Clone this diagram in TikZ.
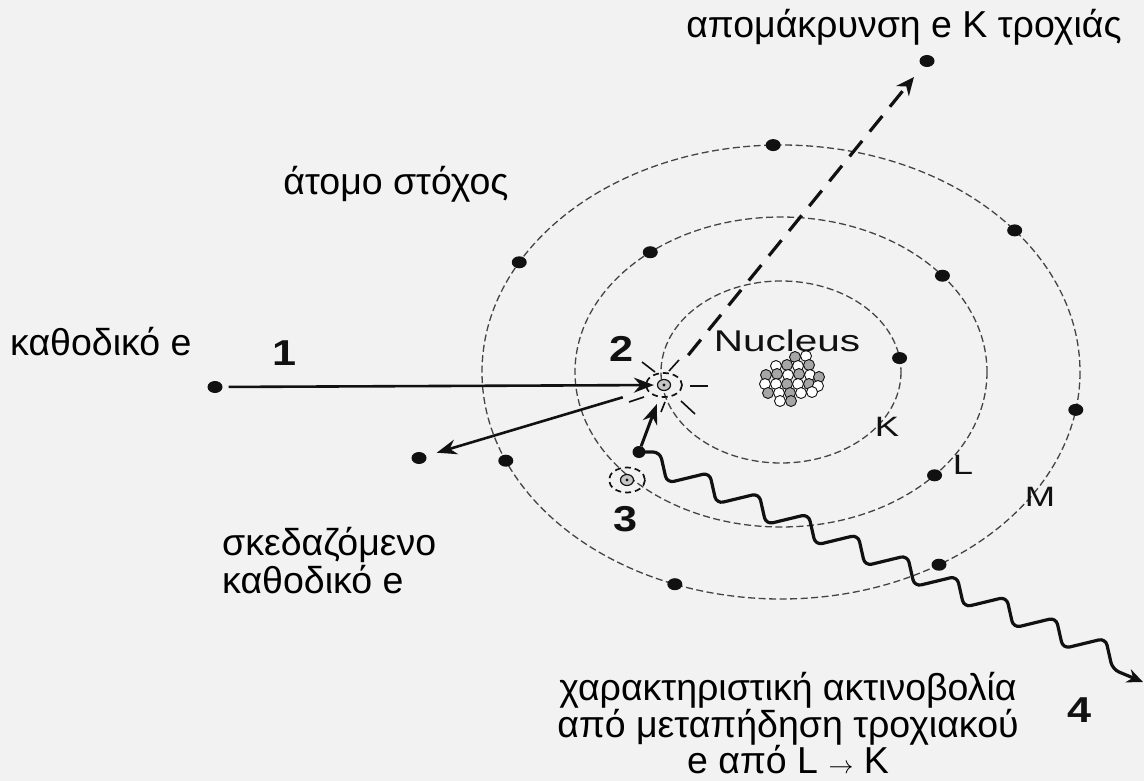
\documentclass[tikz,border=0pt]{standalone}
\usepackage{fontspec}
\setmainfont{Liberation Sans}
\usetikzlibrary{arrows.meta,calc,shapes.geometric}
\definecolor{paper}{HTML}{F2F2F2}
\definecolor{ink}{HTML}{111111}
\definecolor{shellgray}{HTML}{444444}

\begin{document}
\begin{tikzpicture}[x=1pt,y=-1pt,
  orbit/.style={draw=shellgray, line width=1.3pt, dash pattern=on 7pt off 3.5pt},
  electron/.style={ellipse, fill=ink, inner sep=0pt, minimum width=15pt, minimum height=12pt},
  caption/.style={font=\fontsize{37.5}{42}\selectfont, inner sep=0pt, text=black},
  stage/.style={font=\fontsize{36}{40}\selectfont\bfseries, inner sep=0pt, text=ink},
  shellname/.style={font=\fontsize{28}{30}\selectfont, inner sep=0pt, text=ink},
  beam/.style={draw=ink, line width=2.6pt, -{Stealth[length=20pt,width=15pt]}},
  ejected/.style={draw=ink, line width=3.2pt, dash pattern=on 20pt off 12pt,
    -{Stealth[length=18pt,width=16pt]}},
  photon/.style={draw=ink, line width=3.2pt, rounded corners=7pt,
    -{Stealth[length=16pt,width=14pt]}},
  vacancy/.style={ellipse, draw=ink, line width=1.2pt, fill=gray!45,
    inner sep=0pt, minimum width=13pt, minimum height=11pt},
  halo/.style={draw=ink, line width=1.7pt, dash pattern=on 6pt off 4pt},
  burst/.style={draw=ink, line width=1.6pt},
  nucleon/.style={circle, draw=ink, line width=0.9pt, inner sep=0pt, minimum size=11pt}
]
% background and page size
\fill[paper] (0,0) rectangle (1144,781);
\useasboundingbox (0,0) rectangle (1144,781);

% shells K, L, M around the nucleus
\coordinate (nuc) at (781,372);
\draw[orbit] (nuc) ellipse [x radius=120, y radius=91];
\draw[orbit] (nuc) ellipse [x radius=206, y radius=155];
\draw[orbit] (nuc) ellipse [x radius=299, y radius=227];

% bound electrons
\foreach \t [count=\k] in {-91.5,-38.6,9.6,58.1,110.8,157,-151.1}
  \node[electron] (m\k) at ($(nuc)+(\t:299 and 227)$) {};
\foreach \t [count=\k] in {-129.4,-38.4,41.8}
  \node[electron] (l\k) at ($(nuc)+(\t:206 and 155)$) {};
\node[electron] (k1) at ($(nuc)+(-8.8:120 and 91)$) {};

% nucleus: a cluster of nucleons
\foreach \x/\y/\f in {
  795/357/gray!70, 806/356/white,
  776/366/white, 787/365/gray!70, 798/366/white, 809/365/gray!70,
  766/375/gray!70, 777/374/gray!70, 788/375/white, 799/374/gray!70, 810/375/white, 819/377/gray!70,
  765/384/white, 776/384/white, 787/384/gray!70, 798/384/white, 809/384/gray!70, 818/386/white,
  768/393/gray!70, 779/393/white, 790/393/gray!70, 801/393/white, 812/392/white,
  780/401/white, 791/401/gray!70}
  \node[nucleon, fill=\f] at (\x,\y) {};
\node[shellname, font=\fontsize{30}{32}\selectfont] (nuclabel) at (787,341) {\scalebox{1.35}[1]{Nucleus}};

% shell names
\node[shellname] (klab) at (887,427) {\scalebox{1.3}[1]{K}};
\node[shellname] (llab) at (963,465) {\scalebox{1.3}[1]{L}};
\node[shellname] (mlab) at (1040,497) {\scalebox{1.3}[1]{M}};

% interaction site (2) with its burst
\node[vacancy] (hit) at (664,385) {};
\fill[ink] (hit) circle (1.6);
\draw[halo] (hit) ellipse [x radius=18, y radius=12];
\begin{scope}[shift={(hit)}]
  \draw[burst] (-9,-13) -- (-22,-23);
  \draw[burst] (5,-14) -- (15,-25);
  \draw[burst] (26,1) -- (44,1);
  \draw[burst] (17,16) -- (31,29);
  \draw[burst] (-20,12) -- (-35,17);
  \draw[burst] (1,17) -- (-3,27);
\end{scope}

% vacated L position (3)
\node[vacancy] (hole) at (627,480) {};
\fill[ink] (hole) circle (1.6);
\draw[halo] (hole) ellipse [x radius=18, y radius=12.5];

% free electrons
\node[electron] (incoming) at (215,387) {};
\node[electron] (scattered) at (419,458) {};
\node[electron] (freed) at (927,61) {};
\node[electron, minimum width=13pt, minimum height=12pt] (hop) at (639,452) {};
\coordinate (xray) at (1143,682);

% paths of the electrons
\draw[beam, shorten <=6pt, shorten >=3pt] (incoming) -- (hit);
\draw[beam, shorten <=36pt, shorten >=11pt] (hit) -- (scattered);
\draw[ejected, shorten <=32pt, shorten >=14pt] (hit) -- (freed);
\draw[beam, line width=3pt, shorten >=14pt] (hop) -- (hit);

% emitted characteristic photon
\draw[photon] (hop.center)
  \foreach \i in {0,...,9} { -- ({660+49.5*\i},{452+20.7*\i}) -- ({667+49.5*\i},{483+20.7*\i}) }
  -- (xray);

% stage numbers
\node[stage] (n1) at (285,353) {\scalebox{1.2}[1]{1}};
\node[stage] (n2) at (622,349) {\scalebox{1.2}[1]{2}};
\node[stage] (n3) at (626,519) {\scalebox{1.2}[1]{3}};
\node[stage] (n4) at (1080,710) {\scalebox{1.2}[1]{4}};

% captions
\node[caption, anchor=base] (ejtext) at (904,38) {απομάκρυνση e K τροχιάς};
\node[caption, anchor=base] (atomtext) at (396,195) {άτομο στόχος};
\node[caption, anchor=base west] (cathtext) at (10,355) {καθοδικό e};
\node[caption, anchor=base west] (scattext1) at (222,555) {σκεδαζόμενο};
\node[caption, anchor=base west] (scattext2) at (222,593) {καθοδικό e};
\node[caption, anchor=base] (chartext1) at (788,700) {χαρακτηριστική ακτινοβολία};
\node[caption, anchor=base] (chartext2) at (788,737) {από μεταπήδηση τροχιακού};
\node[caption, anchor=base] (chartext3) at (788,773) {e από L $\rightarrow$ K};
\end{tikzpicture}
\end{document}
